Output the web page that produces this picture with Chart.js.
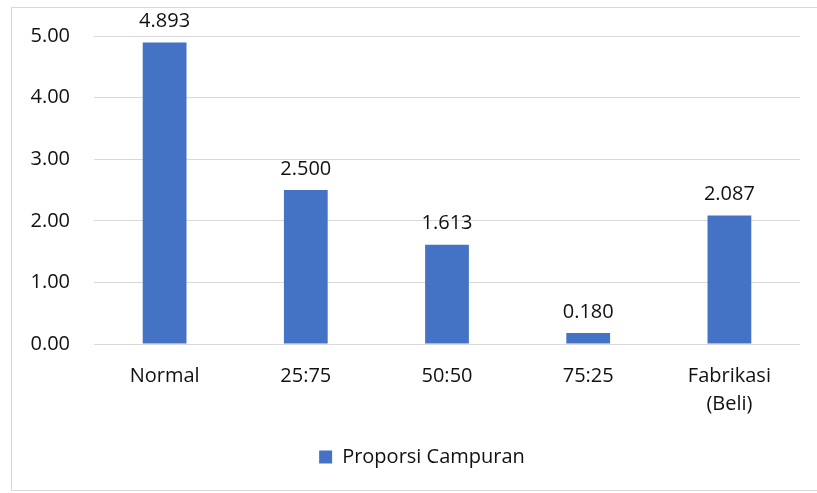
<!DOCTYPE html>
<html>
<head>
<meta charset="utf-8">
<script src="https://cdn.jsdelivr.net/npm/chart.js@4.4.0/dist/chart.umd.min.js"></script>
<style>
  body { margin: 0; background: #fff; }
  #wrap { position: relative; width: 817px; height: 493px; }
  #frame { position: absolute; left: 11px; top: 7px; width: 820px; height: 482px; border: 1px solid #d9d9d9; }
  canvas { position: absolute; left: 0; top: 0; }
</style>
</head>
<body>
<div id="wrap">
  <div id="frame"></div>
  <canvas id="mycanvas" width="817" height="493"></canvas>
</div>
<script>
var categories = ["Normal", "25:75", "50:50", "75:25", ["Fabrikasi", "(Beli)"]];
var proporsi = [4.893, 2.500, 1.613, 0.180, 2.087];
var yTicks = [0, 1, 2, 3, 4, 5];

var fontFam = "'Open Sans', 'Noto Sans', sans-serif";
var fontSize = 20;

// draw value above each bar
var valueLabels = {
  id: 'valueLabels',
  afterLayout: function(chart) {
    // legend sits a bit right of centre in the original
    chart.legend.left += 22;
    chart.legend.right += 22;
  },
  afterDatasetsDraw: function(chart) {
    var ctx = chart.ctx;
    var meta = chart.getDatasetMeta(0);
    ctx.save();
    ctx.font = fontSize + "px " + fontFam;
    ctx.fillStyle = "#111";
    ctx.textAlign = "center";
    ctx.textBaseline = "middle";
    meta.data.forEach(function(bar, i) {
      ctx.fillText(proporsi[i].toFixed(3), bar.x, bar.y - 21);
    });
    ctx.restore();
  }
};

var ctx = document.getElementById("mycanvas");
var chart = new Chart(ctx, {
  type: 'bar',
  data: {
    labels: categories,
    datasets: [{
      label: "Proporsi Campuran",
      data: proporsi,
      backgroundColor: "#4472c4",
      borderWidth: 0,
      barPercentage: 0.31,
      categoryPercentage: 1
    }]
  },
  options: {
    responsive: false,
    animation: false,
    layout: { padding: { top: 36, right: 17, left: 0, bottom: 16 } },
    plugins: {
      tooltip: { enabled: false },
      legend: {
        position: 'bottom',
        labels: {
          boxWidth: 13,
          boxHeight: 13,
          padding: 10,
          color: "#111",
          font: { size: fontSize, family: fontFam }
        }
      }
    },
    scales: {
      x: {
        grid: { display: false, drawTicks: false },
        border: { display: false },
        ticks: { padding: 18, color: "#111", font: { size: fontSize, family: fontFam, lineHeight: 1.4 } },
        afterFit: function(scale) { scale.height = 93; }
      },
      y: {
        min: 0,
        max: 5,
        afterBuildTicks: function(scale) {
          scale.ticks = yTicks.map(function(v) { return { value: v }; });
        },
        grid: { color: "#d9d9d9", lineWidth: 1, drawTicks: false },
        border: { display: false },
        ticks: {
          padding: 24,
          color: "#111",
          font: { size: fontSize, family: fontFam },
          callback: function(v) { return Number(v).toFixed(2); }
        },
        afterFit: function(scale) { scale.width = 94; }
      }
    }
  },
  plugins: [valueLabels]
});
</script>
</body>
</html>
